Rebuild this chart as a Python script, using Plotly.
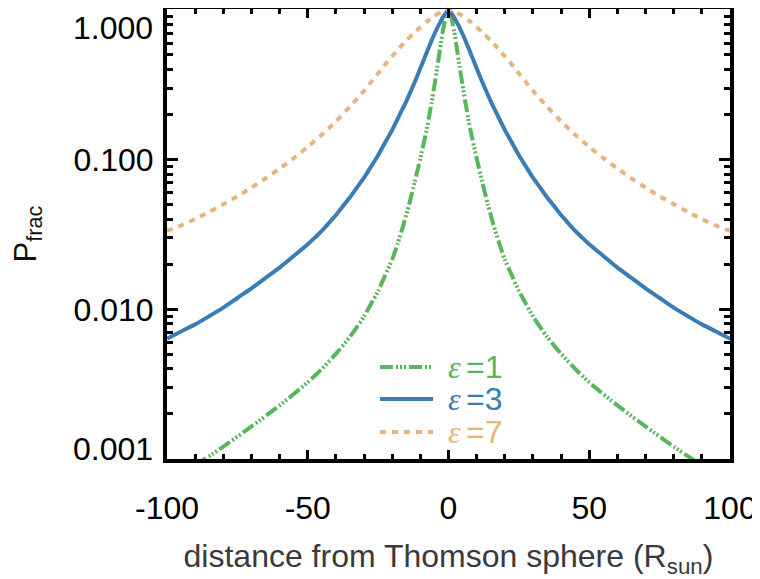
import math
import plotly.graph_objects as go

# ---- data (symmetric about 0) ----
x_e1 = [-90, -80, -70, -60, -50, -45, -40, -35, -30, -27.5, -25, -22.5, -20, -18, -16, -14, -12, -10, -8, -7, -6,
        -5, -4, -3, -2, -1, 0, 1, 2, 3, 4, 5, 6, 7, 8, 10, 12, 14, 16, 18, 20, 22.5, 25, 27.5, 30, 35, 40, 45,
        50, 60, 70, 80, 90]
y_e1 = [0.000904, 0.00121, 0.00165, 0.00228, 0.00325, 0.0040, 0.00504, 0.00656, 0.00895, 0.01089, 0.01324,
        0.01687, 0.0215, 0.0277, 0.0366, 0.0501, 0.0708, 0.102, 0.151, 0.189, 0.241, 0.313, 0.412, 0.550,
        0.724, 0.891, 1.0, 0.891, 0.724, 0.550, 0.412, 0.313, 0.241, 0.189, 0.151, 0.102, 0.0708, 0.0501,
        0.0366, 0.0277, 0.0215, 0.01687, 0.01324, 0.01089, 0.00895, 0.00656, 0.00504, 0.0040, 0.00325,
        0.00228, 0.00165, 0.00121, 0.000904]

x_e3 = [-100, -95, -90, -85, -80, -75, -70, -65, -60, -55, -50, -47.5, -45, -42.5, -40, -37.5, -35, -32.5, -30,
        -27.5, -25, -22.5, -20, -17.5, -15, -13.5, -12, -11, -10, -9, -8, -7, -6, -5, -4, -3, -2, -1, 0,
        1, 2, 3, 4, 5, 6, 7, 8, 9, 10, 11, 12, 13.5, 15, 17.5, 20, 22.5, 25, 27.5, 30, 32.5, 35, 37.5, 40,
        42.5, 45, 47.5, 50, 55, 60, 65, 70, 75, 80, 85, 90, 95, 100]
y_e3 = [0.00637, 0.00711, 0.00793, 0.0090, 0.01026, 0.0119, 0.0138, 0.0162, 0.0190, 0.0227, 0.0272, 0.0301,
        0.0334, 0.0377, 0.0426, 0.0489, 0.0561, 0.0652, 0.0757, 0.090, 0.107, 0.130, 0.158, 0.197, 0.245,
        0.284, 0.330, 0.366, 0.407, 0.454, 0.506, 0.562, 0.625, 0.689, 0.759, 0.822, 0.891, 0.95, 1.0,
        0.95, 0.891, 0.822, 0.759, 0.689, 0.625, 0.562, 0.506, 0.454, 0.407, 0.366, 0.330, 0.284, 0.245,
        0.197, 0.158, 0.130, 0.107, 0.090, 0.0757, 0.0652, 0.0561, 0.0489, 0.0426, 0.0377, 0.0334, 0.0301,
        0.0272, 0.0227, 0.0190, 0.0162, 0.0138, 0.0119, 0.01026, 0.0090, 0.00793, 0.00711, 0.00637]

x_e7 = [-100, -95, -90, -85, -80, -75, -70, -65, -60, -55, -50, -45, -40, -35, -30, -27.5, -25, -22.5, -20,
        -17.5, -15, -12.5, -10, -7.5, -5, -2.5, 0, 2.5, 5, 7.5, 10, 12.5, 15, 17.5, 20, 22.5, 25, 27.5, 30,
        35, 40, 45, 50, 55, 60, 65, 70, 75, 80, 85, 90, 95, 100]
y_e7 = [0.0334, 0.0363, 0.0401, 0.0447, 0.0504, 0.0569, 0.0650, 0.0750, 0.0871, 0.1023, 0.1216, 0.1466,
        0.180, 0.226, 0.288, 0.330, 0.376, 0.432, 0.490, 0.556, 0.624, 0.695, 0.767, 0.841, 0.912, 0.966,
        1.0, 0.966, 0.912, 0.841, 0.767, 0.695, 0.624, 0.556, 0.490, 0.432, 0.376, 0.330, 0.288, 0.226,
        0.180, 0.1466, 0.1216, 0.1023, 0.0871, 0.0750, 0.0650, 0.0569, 0.0504, 0.0447, 0.0401, 0.0363,
        0.0334]

series_names = ["1", "3", "7"]
colors = ["#58b65b", "#3a7db5", "#e6b57e"]
dashes = ["13px,3px,2px,2px,2px,2px,2px,3px", "solid", "6px,6px"]
widths = [4, 4, 4]

x_ticks = [-100, -50, 0, 50, 100]
x_ticktext = ["-100", "-50", "0", "50", "100"]
y_ticks = [0.01, 0.1]
y_ticktext = ["0.010", "0.100"]
y_end_ticks = [1.0, 0.001]
y_end_text = ["1.000", "0.001"]

fig = go.Figure()
for xs, ys, c, d, w, n in zip([x_e1, x_e3, x_e7], [y_e1, y_e3, y_e7], colors, dashes, widths, series_names):
    fig.add_trace(go.Scatter(x=xs, y=ys, mode="lines", name="ε=" + n,
                             line=dict(color=c, width=w, dash=d, shape="spline", smoothing=0.6),
                             showlegend=False))

# in-plot key (line sample + coloured text), as in the reference
leg_rows = [0.2044, 0.1333, 0.06]
for n, c, d, yy in zip(series_names, colors, dashes, leg_rows):
    fig.add_shape(type="line", xref="paper", yref="paper", x0=0.3783, x1=0.4725, y0=yy, y1=yy,
                  line=dict(color=c, width=4, dash=d))
    fig.add_annotation(xref="paper", yref="paper", x=0.4973, y=yy, xanchor="left", yanchor="middle",
                       showarrow=False, text="<i>ε</i>", borderpad=0, height=28,
                       font=dict(family="Liberation Serif", size=32, color=c))
    fig.add_annotation(xref="paper", yref="paper", x=0.5293, y=yy, xanchor="left", yanchor="middle",
                       showarrow=False, text="=" + n, borderpad=0, height=28,
                       font=dict(family="Liberation Sans", size=32, color=c))

# end labels of the y axis, nudged inward like the reference
for v, t, sh in zip(y_end_ticks, y_end_text, [-18, 10]):
    fig.add_annotation(xref="paper", yref="y", x=0, y=math.log10(v), xanchor="right", yanchor="middle",
                       xshift=-12, yshift=sh, showarrow=False, text=t,
                       font=dict(family="Liberation Sans", size=32, color="black"))

axis_common = dict(showline=True, linecolor="black", linewidth=4, mirror="allticks",
                   ticks="inside", tickcolor="black", showgrid=False, zeroline=False,
                   tickfont=dict(family="Liberation Sans", size=32, color="black"))

fig.update_xaxes(range=[-100, 100], tickvals=x_ticks, ticktext=x_ticktext,
                 ticklen=9, tickwidth=3, ticklabelstandoff=18,
                 minor=dict(ticks="inside", dtick=10, ticklen=5, tickwidth=2.5, tickcolor="black", showgrid=False),
                 title=dict(text="distance from Thomson sphere (R<sub>sun</sub>)",
                            font=dict(family="Liberation Sans", size=32, color="#3a3a3a"), standoff=26),
                 **axis_common)
fig.update_yaxes(type="log", range=[-3, 0.006], tickvals=y_ticks, ticktext=y_ticktext,
                 ticklen=11, tickwidth=3, ticklabelstandoff=3,
                 minor=dict(ticks="inside", dtick="D1", ticklen=6, tickwidth=2.5, tickcolor="black", showgrid=False),
                 title=dict(text="P<sub>frac</sub>",
                            font=dict(family="Liberation Sans", size=31, color="#111"), standoff=30),
                 **axis_common)

# the page adds an 8px body margin; size the figure so the plot area lands where the reference's does
fig.update_layout(width=752, height=571, margin=dict(l=159, r=30, t=1, b=120, autoexpand=False),
                  plot_bgcolor="white", paper_bgcolor="white")

fig.write_html("out.html")
